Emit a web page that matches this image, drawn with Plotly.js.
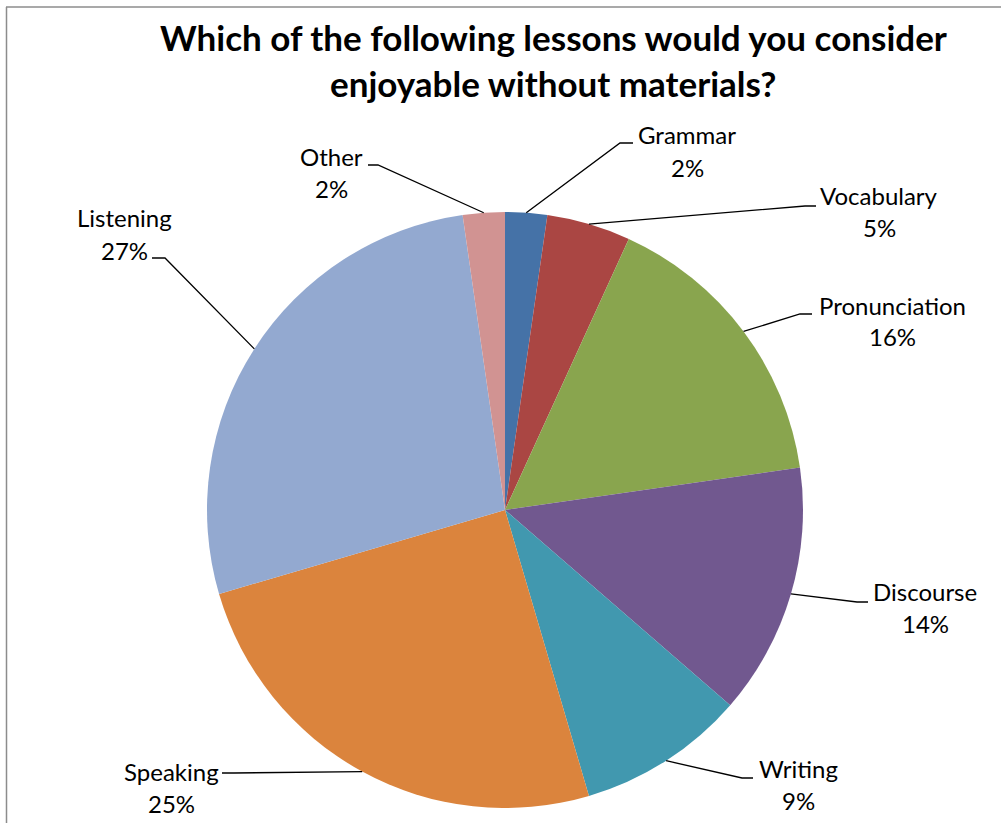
<!DOCTYPE html>
<html>
<head>
<meta charset="utf-8">
<script src="https://cdn.plot.ly/plotly-3.0.1.min.js"></script>
<style>
html, body { margin: 0; padding: 0; background: #ffffff; }
#chart { width: 1001px; height: 823px; }
</style>
</head>
<body>
<div id="chart"></div>
<script>
// ---- data ----
var categories = ["Grammar", "Vocabulary", "Pronunciation", "Discourse", "Writing", "Speaking", "Listening", "Other"];
var counts = [1, 2, 7, 6, 4, 11, 12, 1];
var sliceColors = ["#4572A7", "#AA4643", "#89A54E", "#71588F", "#4198AF", "#DB843D", "#93A9D0", "#D19392"];
var titleLines = ["Which of the following lessons would you consider", "enjoyable without materials?"];

// ---- layout settings (pixels) ----
var W = 1001, H = 823;
var pieBox = { left: 207, right: 803, top: 212, bottom: 808 };
var titleCenterX = 553, titleLineY = [37, 83];
// label centre (x, y of name line), leader elbow and leader end, per category
var labelCenter = [[687, 135], [879, 196], [892, 305], [925, 591], [798, 768], [171, 771], [124, 218], [331, 156]];
var leaderElbow = [[620, 143], [805, 206], [800, 314], [857, 602], [742, 778], [234, 773], [165, 258], [378, 165]];
var leaderEnd   = [[633, 143], [816, 206], [812, 314], [868, 602], [753, 778], [222, 773], [152, 258], [368, 165]];
var lineGap = 32;

function px(x) { return x / W; }
function py(y) { return 1 - y / H; }

var total = counts.reduce(function (a, b) { return a + b; }, 0);
var cx = (pieBox.left + pieBox.right) / 2, cy = (pieBox.top + pieBox.bottom) / 2;
var R = (pieBox.right - pieBox.left) / 2;

var shapes = [];
var annotations = [];
var font = "Lato, 'Open Sans', sans-serif";
var cum = 0;
for (var i = 0; i < counts.length; i++) {
  var mid = (cum + counts[i] / 2) / total;
  cum += counts[i];
  var th = mid * 2 * Math.PI;
  var ex = cx + R * Math.sin(th), ey = cy - R * Math.cos(th);
  var el = leaderElbow[i], en = leaderEnd[i];
  shapes.push({
    type: "path", xref: "paper", yref: "paper",
    path: "M " + px(ex) + " " + py(ey) + " L " + px(el[0]) + " " + py(el[1]) + " L " + px(en[0]) + " " + py(en[1]),
    line: { color: "#000000", width: 1.3 }
  });
  var pct = Math.round(counts[i] / total * 100) + "%";
  annotations.push({
    xref: "paper", yref: "paper", x: px(labelCenter[i][0]), y: py(labelCenter[i][1]),
    xanchor: "center", yanchor: "middle", showarrow: false,
    text: categories[i], font: { family: font, size: 24, color: "#000000" }
  });
  annotations.push({
    xref: "paper", yref: "paper", x: px(labelCenter[i][0]), y: py(labelCenter[i][1] + lineGap),
    xanchor: "center", yanchor: "middle", showarrow: false,
    text: pct, font: { family: font, size: 24, color: "#000000" }
  });
}

// title lines
for (var t = 0; t < titleLines.length; t++) {
  annotations.push({
    xref: "paper", yref: "paper", x: px(titleCenterX), y: py(titleLineY[t]),
    xanchor: "center", yanchor: "middle", showarrow: false,
    text: "<b>" + titleLines[t] + "</b>",
    font: { family: font, size: 35, color: "#000000" }
  });
}

// chart border (left and top edges visible)
shapes.push({ type: "line", xref: "paper", yref: "paper", x0: px(6.5), x1: px(6.5), y0: py(7), y1: py(H + 5), line: { color: "#8c8c8c", width: 1.5 } });
shapes.push({ type: "line", xref: "paper", yref: "paper", x0: px(6), x1: px(W + 5), y0: py(7), y1: py(7), line: { color: "#8c8c8c", width: 1.5 } });

var trace = {
  type: "pie",
  labels: categories,
  values: counts,
  sort: false,
  direction: "clockwise",
  rotation: 0,
  textinfo: "none",
  hoverinfo: "skip",
  marker: { colors: sliceColors, line: { width: 0 } },
  domain: { x: [px(pieBox.left), px(pieBox.right)], y: [py(pieBox.bottom), py(pieBox.top)] }
};

var layout = {
  width: W, height: H,
  margin: { l: 0, r: 0, t: 0, b: 0 },
  paper_bgcolor: "#ffffff",
  showlegend: false,
  shapes: shapes,
  annotations: annotations
};

Plotly.newPlot("chart", [trace], layout, { displayModeBar: false, staticPlot: true });
</script>
</body>
</html>
